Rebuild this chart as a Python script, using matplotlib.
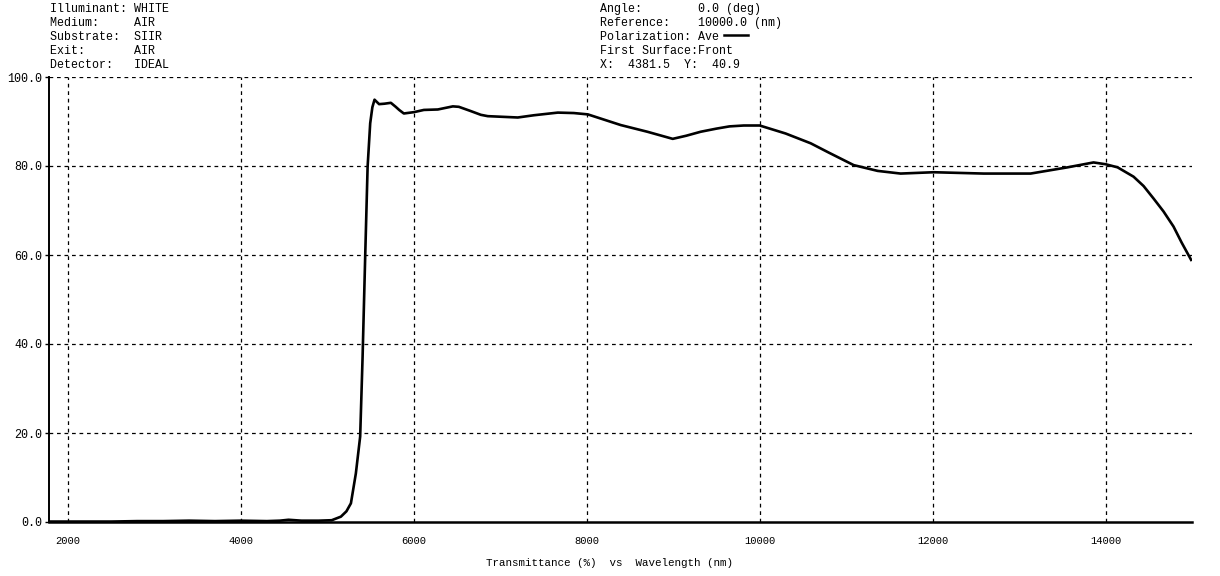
import matplotlib
matplotlib.use("Agg")
import matplotlib.pyplot as plt

W, H = 1220, 576

wavelength = [1780, 2000, 2500, 2800, 3100, 3400, 3700, 4000, 4300, 4450, 4550, 4700,
              4900, 5050, 5156, 5220, 5272, 5329, 5379, 5407, 5437, 5465, 5495, 5520, 5545,
              5598, 5660, 5734, 5790, 5830, 5884, 6000, 6116, 6277, 6451, 6520, 6650,
              6775, 6855, 7202, 7387, 7665, 7850, 8012, 8393, 8700, 8994, 9150, 9318,
              9500, 9650, 9815, 10000, 10300, 10590, 10800, 11087, 11364, 11630, 12012,
              12590, 13133, 13561, 13861, 14000, 14139, 14324, 14440, 14555, 14670,
              14786, 14880, 14990]
transmittance = [0.1, 0.1, 0.1, 0.2, 0.2, 0.3, 0.2, 0.3, 0.2, 0.3, 0.5, 0.3,
                 0.3, 0.4, 1.2, 2.4, 4.2, 10.9, 19.2, 37.1, 59.6, 79.8, 89.6, 93.2, 94.9,
                 93.9, 94.0, 94.2, 93.3, 92.6, 91.8, 92.1, 92.6, 92.7, 93.4, 93.3, 92.4,
                 91.5, 91.2, 90.9, 91.4, 92.0, 91.9, 91.6, 89.2, 87.7, 86.1, 86.8, 87.7,
                 88.4, 88.9, 89.1, 89.1, 87.3, 85.1, 83.0, 80.2, 78.9, 78.3, 78.6,
                 78.3, 78.3, 79.7, 80.8, 80.4, 79.7, 77.6, 75.5, 72.7, 69.8,
                 66.4, 62.8, 58.9]

xticks = [2000, 4000, 6000, 8000, 10000, 12000, 14000]
yticks = [0, 20, 40, 60, 80, 100]
ytick_labels = ["0.0", "20.0", "40.0", "60.0", "80.0", "100.0"]

header_left = ["Illuminant: WHITE", "Medium:     AIR", "Substrate:  SIIR",
               "Exit:       AIR", "Detector:   IDEAL"]
header_right = ["Angle:        0.0 (deg)", "Reference:    10000.0 (nm)",
                "Polarization: Ave", "First Surface:Front", "X:  4381.5  Y:  40.9"]
xlabel = "Transmittance (%)  vs  Wavelength (nm)"

mono = "Liberation Mono"
fs = 8.4

fig = plt.figure(figsize=(W / 100, H / 100), dpi=100)
ax = fig.add_axes([49 / W, (H - 522) / H, (1192 - 49) / W, (522 - 77) / H])
ax.plot(wavelength, transmittance, color="black", lw=1.9, solid_joinstyle="round")
ax.set_xlim(1780, 15000)
ax.set_ylim(0, 100)
ax.set_xticks(xticks)
ax.set_xticklabels([str(t) for t in xticks], fontfamily=mono, fontsize=7.6)
ax.set_yticks(yticks)
ax.set_yticklabels(ytick_labels, fontfamily=mono, fontsize=fs)
ax.tick_params(axis="x", length=0, pad=10)
ax.tick_params(axis="y", length=3, width=1, pad=2)
for yt in [20, 40, 60, 80, 100]:
    ax.axhline(yt, color="black", lw=0.9, ls=(0, (3, 3)), zorder=0)
for xt in xticks:
    ax.axvline(xt, color="black", lw=0.9, ls=(0, (3, 3)), zorder=0)
for s in ["top", "right"]:
    ax.spines[s].set_visible(False)
ax.spines["left"].set_linewidth(1.4)
ax.spines["bottom"].set_linewidth(1.8)

for i, t in enumerate(header_left):
    fig.text(50 / W, 1 - (9 + 14 * i) / H, t, fontfamily=mono, fontsize=fs, va="center", ha="left")
for i, t in enumerate(header_right):
    fig.text(600 / W, 1 - (9 + 14 * i) / H, t, fontfamily=mono, fontsize=fs, va="center", ha="left")
fig.add_artist(plt.Line2D([724 / W, 748 / W], [1 - 35 / H, 1 - 35 / H], color="black", lw=1.8))

fig.text(609 / W, 1 - 563 / H, xlabel, fontfamily=mono, fontsize=7.8, ha="center", va="center")

fig.savefig("out.png", dpi=100)
